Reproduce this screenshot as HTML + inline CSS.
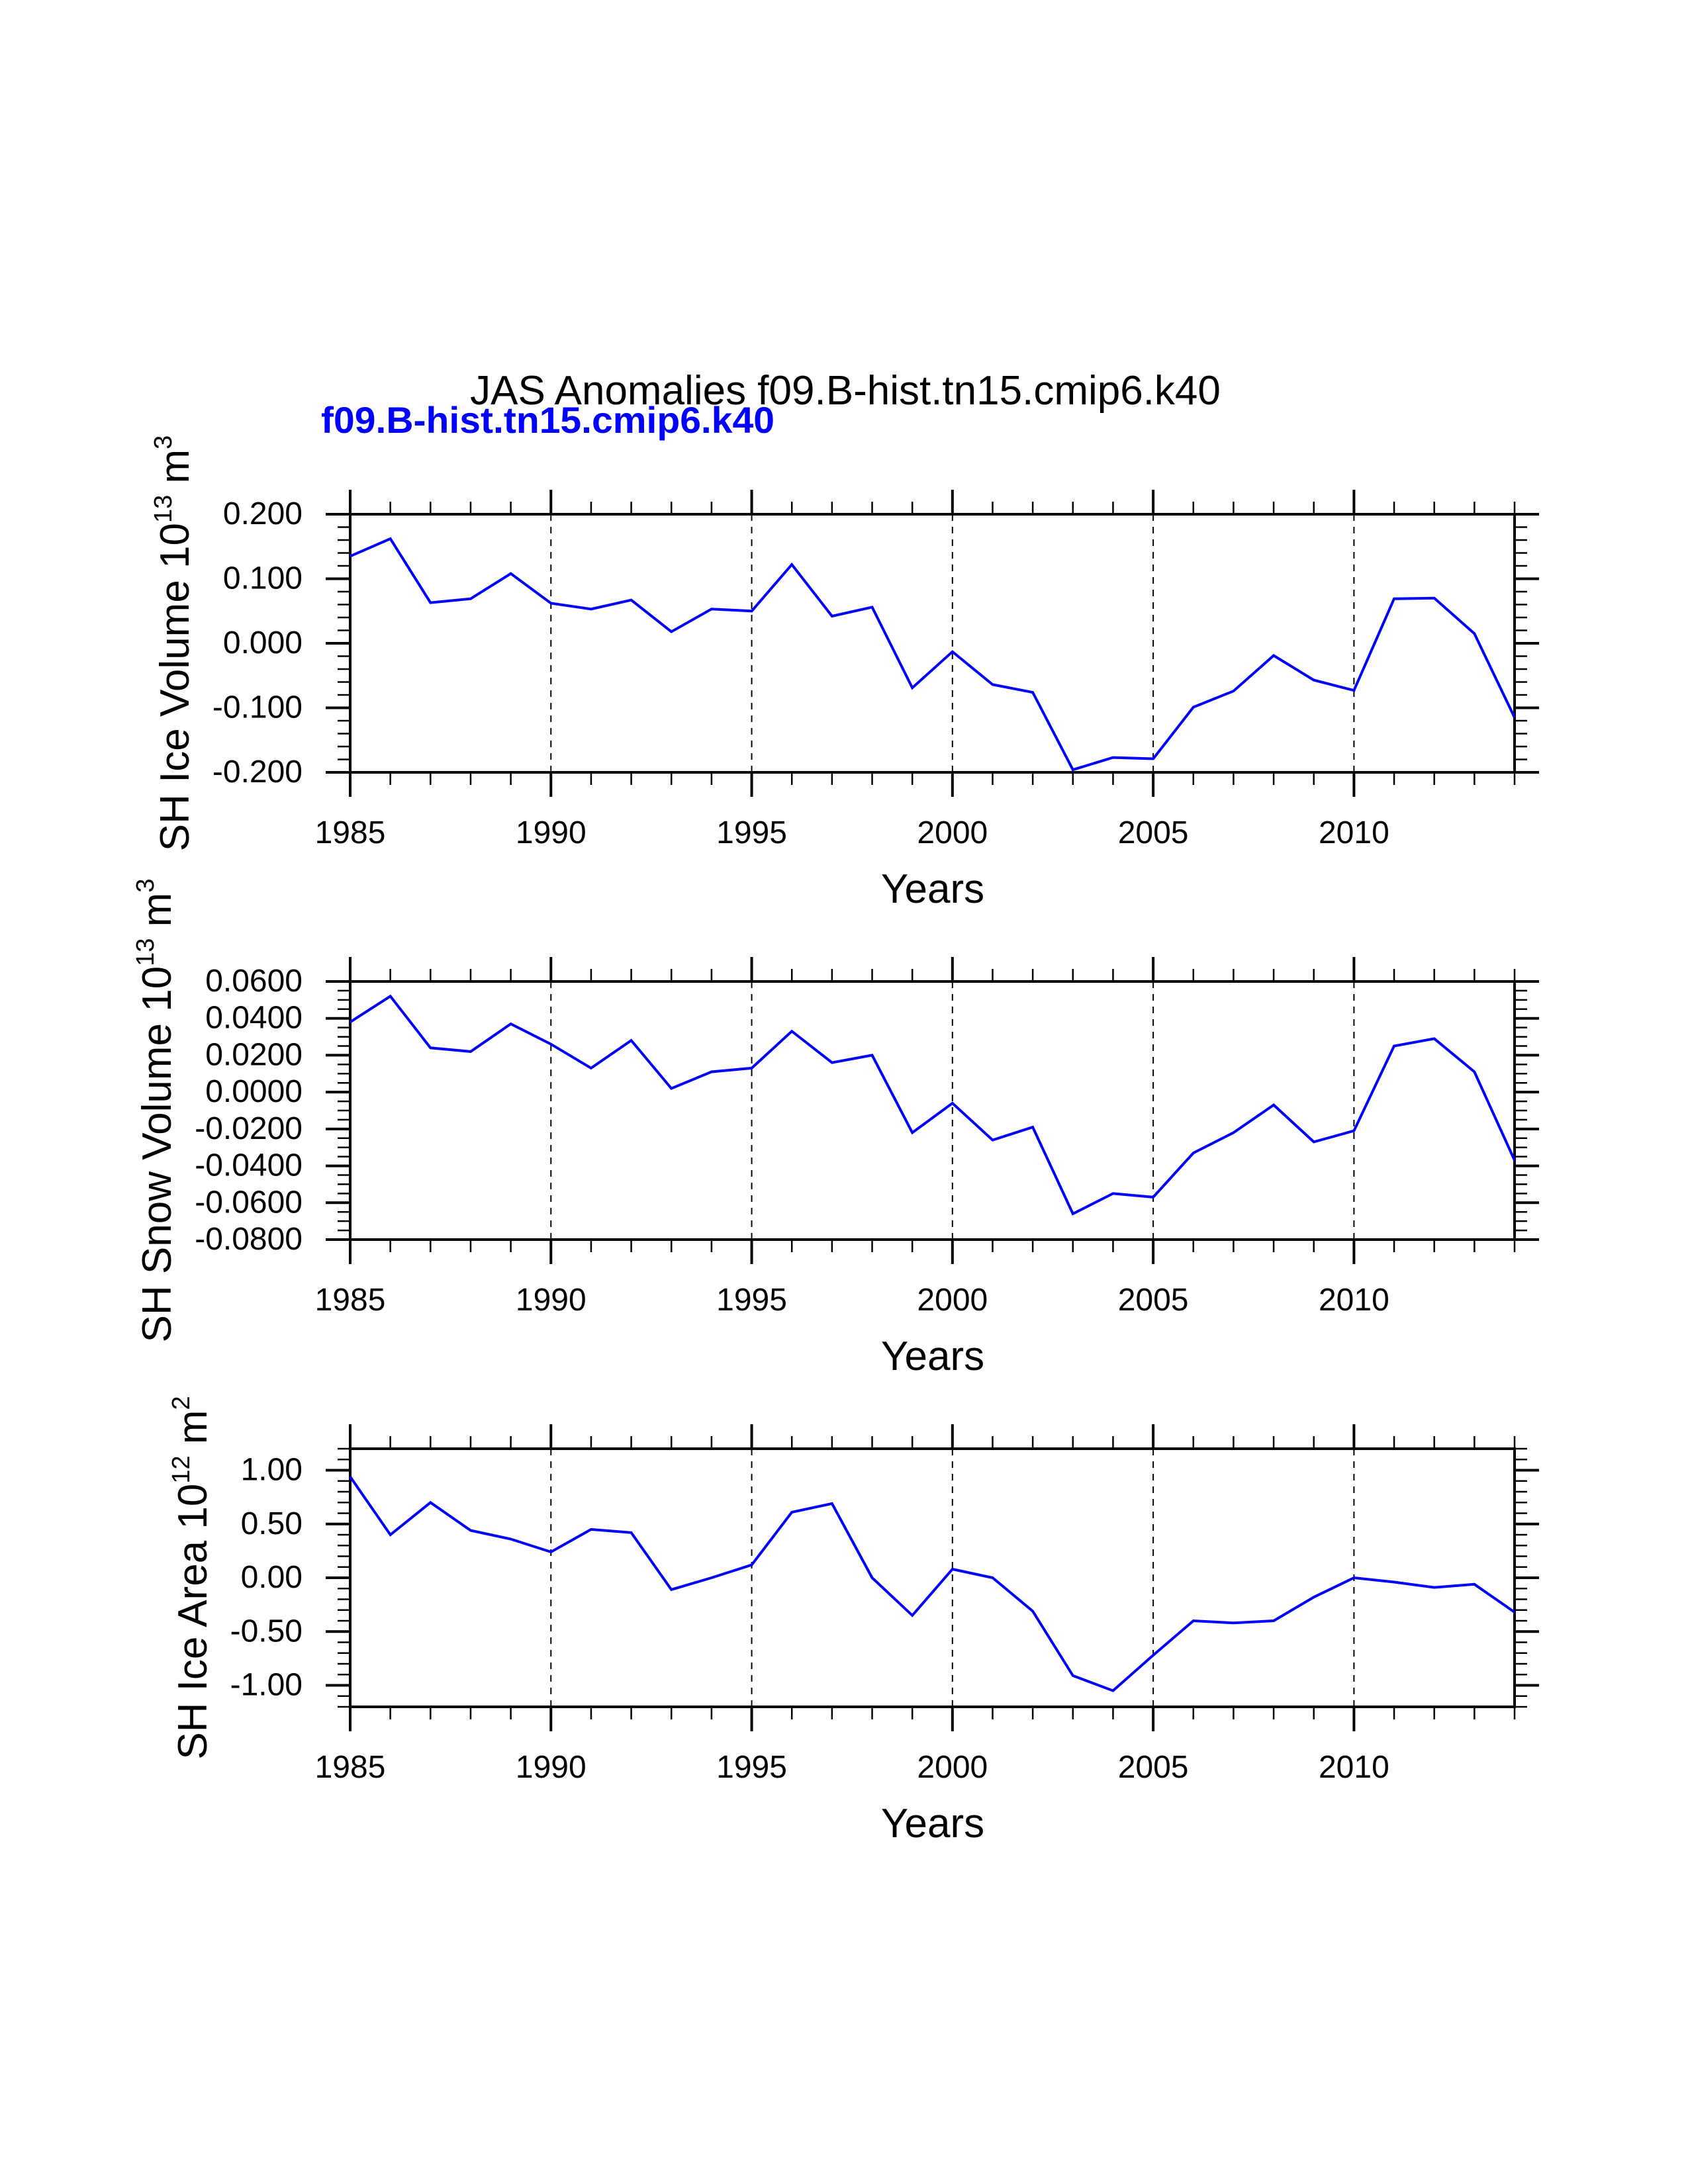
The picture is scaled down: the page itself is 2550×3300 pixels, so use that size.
<!DOCTYPE html>
<html><head><meta charset="utf-8"><style>
html,body{margin:0;padding:0;background:#fff;}
svg{display:block;font-family:"Liberation Sans",sans-serif;}
</style></head><body>
<svg id="fig" width="2550" height="3300" viewBox="0 0 2550 3300" xmlns="http://www.w3.org/2000/svg">
<text x="1277" y="611" font-size="62" text-anchor="middle">JAS Anomalies f09.B-hist.tn15.cmip6.k40</text>
<text x="485" y="654" font-size="56" font-weight="bold" fill="#0000ff" textLength="685" lengthAdjust="spacingAndGlyphs">f09.B-hist.tn15.cmip6.k40</text>
</svg>
<script>
const years = [1985,1986,1987,1988,1989,1990,1991,1992,1993,1994,1995,1996,1997,1998,1999,2000,2001,2002,2003,2004,2005,2006,2007,2008,2009,2010,2011,2012,2013,2014];
const iceVolume = [0.135,0.162,0.063,0.069,0.108,0.062,0.053,0.067,0.018,0.053,0.050,0.122,0.042,0.056,-0.069,-0.013,-0.064,-0.076,-0.196,-0.177,-0.179,-0.099,-0.074,-0.019,-0.057,-0.073,0.069,0.070,0.015,-0.115];
const snowVolume = [0.038,0.052,0.024,0.022,0.037,0.026,0.013,0.028,0.002,0.011,0.013,0.033,0.016,0.020,-0.022,-0.006,-0.026,-0.019,-0.066,-0.055,-0.057,-0.033,-0.022,-0.007,-0.027,-0.021,0.025,0.029,0.011,-0.037];
const iceArea = [0.94,0.40,0.70,0.44,0.36,0.24,0.45,0.42,-0.11,0.00,0.12,0.61,0.69,0.00,-0.35,0.08,0.00,-0.31,-0.91,-1.05,-0.72,-0.40,-0.42,-0.40,-0.18,0.00,-0.04,-0.09,-0.06,-0.32];
const xTickYears = [1985,1990,1995,2000,2005,2010];
const iceVolTicks = [-0.2,-0.1,0,0.1,0.2];
const iceVolLabels = ["-0.200","-0.100","0.000","0.100","0.200"];
const snowTicks = [-0.08,-0.06,-0.04,-0.02,0,0.02,0.04,0.06];
const snowLabels = ["-0.0800","-0.0600","-0.0400","-0.0200","0.0000","0.0200","0.0400","0.0600"];
const areaTicks = [-1,-0.5,0,0.5,1];
const areaLabels = ["-1.00","-0.50","0.00","0.50","1.00"];

const NS="http://www.w3.org/2000/svg";
const svg=document.getElementById('fig');
function mk(tag,attrs,parent){const e=document.createElementNS(NS,tag);for(const k in attrs)e.setAttribute(k,attrs[k]);(parent||svg).appendChild(e);return e;}

const X0=529,X1=2288;
function panel(o){
  const g=mk('g',{});
  
  
  const T=o.top,B=o.top+390;
  const xs=v=>X0+(v-1985)/(2014-1985)*(X1-X0);
  const ys=v=>B-(v-o.ymin)/(o.ymax-o.ymin)*(B-T);
  xTickYears.forEach(yr=>{ if(yr>1985&&yr<2014){
    const l=mk('line',{x1:xs(yr),x2:xs(yr),y1:T,y2:B,stroke:'#000','stroke-width':2,'stroke-dasharray':'10,9'},g);
    
    
  }});
  years.forEach(yr=>{
    const maj=xTickYears.includes(yr);const L=maj?37:19;const w=maj?4:2.5;
    mk('line',{x1:xs(yr),x2:xs(yr),y1:T,y2:T-L,stroke:'#000','stroke-width':w},g);
    mk('line',{x1:xs(yr),x2:xs(yr),y1:B,y2:B+L,stroke:'#000','stroke-width':w},g);
  });
  const nm=Math.round((o.ymax-o.ymin)/o.minor);
  for(let i=0;i<=nm;i++){const v=o.ymin+i*o.minor;const y=ys(v);
    mk('line',{x1:X0,x2:X0-19,y1:y,y2:y,stroke:'#000','stroke-width':2.5},g);
    mk('line',{x1:X1,x2:X1+19,y1:y,y2:y,stroke:'#000','stroke-width':2.5},g);}
  o.ticks.forEach((v,i)=>{const y=ys(v);
    mk('line',{x1:X0,x2:X0-37,y1:y,y2:y,stroke:'#000','stroke-width':4},g);
    mk('line',{x1:X1,x2:X1+37,y1:y,y2:y,stroke:'#000','stroke-width':4},g);
    const t=mk('text',{x:457,y:y+15,'font-size':48,'text-anchor':'end'},g);
    
    
    t.textContent=o.labels[i];
  });
  xTickYears.forEach(yr=>{
    const t=mk('text',{x:xs(yr),y:B+107,'font-size':48,'text-anchor':'middle'},g);
    
    
    t.textContent=yr;
  });
  const f=mk('rect',{x:X0,y:T,width:X1-X0,height:B-T,fill:'none',stroke:'#000','stroke-width':4},g);
  
  
  const pts=o.data.map((v,i)=>xs(years[i]).toFixed(1)+','+ys(v).toFixed(1)).join(' ');
  const pl=mk('polyline',{points:pts,fill:'none',stroke:'#0000ff','stroke-width':4,'stroke-linejoin':'miter'},g);
  
  
  const xt=mk('text',{x:1409,y:B+197,'font-size':62,'text-anchor':'middle'},g);
  
  
  xt.textContent='Years';
  const cy=(T+B)/2;
  const yt=mk('text',{x:o.titleX,y:cy,'font-size':62,'text-anchor':'middle',transform:`rotate(-90 ${o.titleX} ${cy})`},g);
  
  
  yt.innerHTML=o.title+' 10<tspan font-size="38" dy="-26">'+o.exp+'</tspan><tspan dy="26"> m</tspan><tspan font-size="38" dy="-26">'+o.pow+'</tspan>';
}
panel({name:'ice-volume-panel',top:777,ymin:-0.2,ymax:0.2,minor:0.02,ticks:iceVolTicks,labels:iceVolLabels,data:iceVolume,title:'SH Ice Volume',exp:'13',pow:'3',titleX:285});
panel({name:'snow-volume-panel',top:1483,ymin:-0.08,ymax:0.06,minor:0.005,ticks:snowTicks,labels:snowLabels,data:snowVolume,title:'SH Snow Volume',exp:'13',pow:'3',titleX:258});
panel({name:'ice-area-panel',top:2189,ymin:-1.2,ymax:1.2,minor:0.1,ticks:areaTicks,labels:areaLabels,data:iceArea,title:'SH Ice Area',exp:'12',pow:'2',titleX:312});
</script>
</body></html>
